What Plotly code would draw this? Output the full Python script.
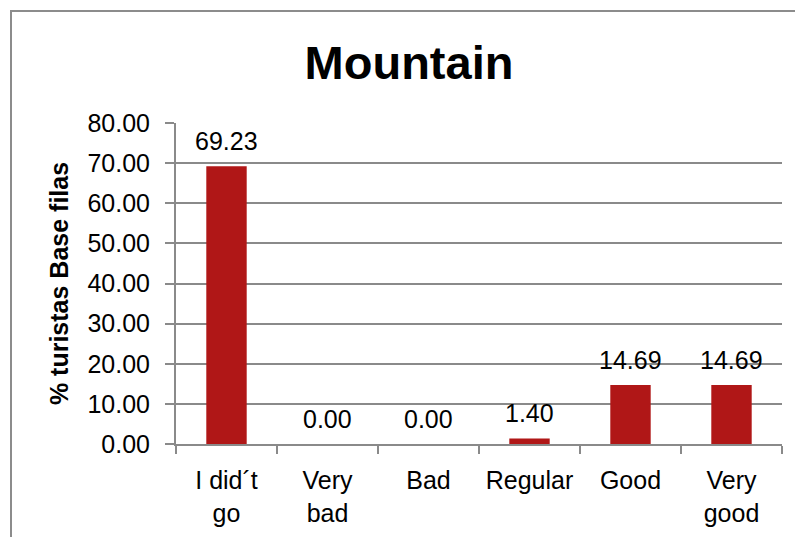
import plotly.graph_objects as go

categories = ["I did´t<br>go", "Very<br>bad", "Bad", "Regular", "Good", "Very<br>good"]
values = [69.23, 0.00, 0.00, 1.40, 14.69, 14.69]
y_ticks = [0, 10, 20, 30, 40, 50, 60, 70, 80]
y_tick_labels = ["%.2f" % v for v in y_ticks]

OFF = 8  # page body margin
W, H = 803 - OFF, 537 - OFF
L = 176 - OFF
T = 123 - OFF
R = W - (782 - OFF)
B = H - (444 - OFF)
pw, ph = W - L - R, H - T - B

BAR = "#B01717"
GRID = "#8A8A8A"
FONT = "Liberation Sans"

fig = go.Figure()
fig.add_trace(go.Bar(x=categories, y=values, marker=dict(color=BAR, line=dict(width=0)),
                     hoverinfo="skip"))

for c, v in zip(categories, values):
    fig.add_annotation(x=c, y=v, text="%.2f" % v, showarrow=False,
                       yanchor="bottom", yshift=9,
                       font=dict(family=FONT, size=25, color="#000000"))

def px_x(p):
    return (p - OFF - L) / pw

def px_y(p):
    return (H - B - (p - OFF)) / ph

fig.add_shape(type="rect", xref="paper", yref="paper",
              x0=px_x(11), x1=px_x(W + 40), y0=px_y(11), y1=px_y(H + 40),
              line=dict(color="#8C8C8C", width=2), fillcolor="rgba(0,0,0,0)", layer="below")

fig.update_layout(
    width=W, height=H,
    margin=dict(l=L, r=R, t=T, b=B),
    paper_bgcolor="white", plot_bgcolor="white",
    showlegend=False,
    bargap=0.6,
    title=dict(text="<b>Mountain</b>", x=(409 - OFF) / W, xanchor="center",
               y=1 - (63 - OFF) / H, yanchor="middle",
               font=dict(family=FONT, size=47, color="#000000")),
    xaxis=dict(type="category", showline=True, linecolor=GRID, linewidth=2,
               ticks="outside", tickson="boundaries", ticklen=8, tickwidth=2, tickcolor=GRID,
               ticklabelstandoff=13, automargin=False,
               tickfont=dict(family=FONT, size=25, color="#000000"),
               showgrid=False, zeroline=False),
    yaxis=dict(range=[0, 80], tickvals=y_ticks, ticktext=y_tick_labels,
               showline=True, linecolor=GRID, linewidth=2,
               ticks="outside", ticklen=9, tickwidth=2, tickcolor=GRID,
               ticklabelstandoff=10, automargin=False,
               tickfont=dict(family=FONT, size=25, color="#000000"),
               showgrid=True, gridcolor=GRID, gridwidth=2, zeroline=False,
               title=dict(text="<b>% turistas Base filas</b>", standoff=12,
                          font=dict(family=FONT, size=25, color="#000000"))),
)

fig.write_html("out.html")
